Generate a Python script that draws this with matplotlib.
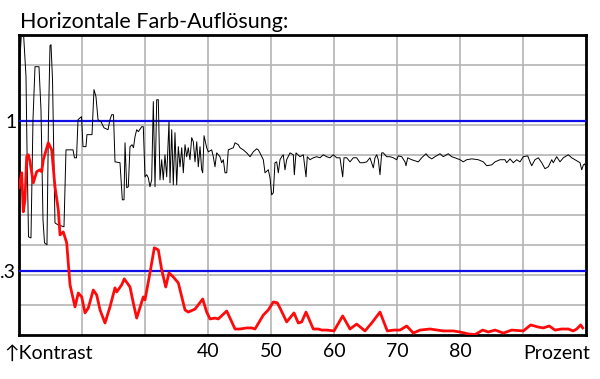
import matplotlib
matplotlib.use("Agg")
import matplotlib.pyplot as plt
import numpy as np

# --- data (x in percent, y as response) ---
black_x = [10.08, 10.40, 10.71, 11.11, 11.27, 11.51, 11.90, 12.22, 12.54, 13.17,
           13.49, 13.81, 14.05, 14.44, 14.68, 14.92, 15.08, 15.32, 15.71, 16.19,
           17.14, 17.46, 18.57, 18.81, 19.13, 19.37, 19.92, 20.16, 20.63, 20.79,
           21.59, 21.90, 22.22, 22.54, 23.02, 23.49, 24.13, 24.44, 24.71, 25.00,
           25.24, 26.03, 26.40, 26.67, 26.83, 27.10, 27.35, 27.62, 27.94, 28.17,
           28.41, 28.68, 28.94, 29.48, 29.73, 30.00, 30.27, 30.52, 30.79, 31.06,
           31.32, 31.59, 31.86, 32.11, 32.38, 32.65, 32.90, 33.17, 33.44, 33.81,
           33.97, 34.24, 34.49, 34.76, 35.03, 35.29, 35.56, 35.83, 36.08, 36.35,
           36.62, 36.87, 37.14, 37.41, 37.67, 37.94, 38.21, 38.46, 38.73, 39.00,
           39.16, 39.37, 39.79, 40.05, 40.59, 40.84, 41.11, 41.38, 41.90, 42.17,
           42.43, 42.70, 42.97, 43.22, 44.02, 44.29, 44.81, 45.08, 45.60, 46.14,
           46.67, 47.19, 47.73, 47.98, 48.25, 48.78, 49.05, 49.57, 49.84, 50.11,
           50.37, 50.63, 50.90, 51.16, 51.43, 51.70, 51.95, 52.22, 52.49, 53.02,
           53.54, 53.70, 53.97, 54.60, 55.13, 55.56, 55.76, 56.19, 56.71, 57.25,
           57.78, 58.30, 58.84, 59.37, 59.89, 60.43, 60.95, 61.38, 61.59, 62.02,
           62.54, 63.06, 63.60, 64.13, 64.65, 65.19, 65.71, 66.24, 66.51, 66.78,
           67.03, 67.30, 67.57, 67.83, 68.37, 68.89, 69.41, 69.95, 70.21, 70.75,
           71.27, 71.43, 71.70, 72.33, 73.38, 73.92, 74.60, 74.97, 75.51, 76.03,
           76.83, 77.35, 78.14, 78.68, 79.21, 80.00, 80.52, 81.06, 81.86, 82.90,
           83.70, 84.24, 85.03, 85.56, 86.35, 87.14, 87.41, 87.94, 88.46, 89.00,
           89.52, 90.05, 90.75, 91.11, 91.38, 91.90, 92.43, 92.97, 93.49, 94.02,
           94.56, 94.81, 95.35, 95.87, 96.40, 97.19, 97.73, 98.52, 99.05, 99.32,
           99.59, 99.84, 100.00]
black_y = [1.248, 1.416, 1.411, 1.206, 0.864, 0.458, 0.453, 1.005, 1.252, 1.252,
           1.051, 0.537, 0.430, 0.421, 1.005, 1.350, 1.355, 1.192, 0.523, 0.514,
           0.505, 0.864, 0.864, 0.827, 0.827, 1.005, 1.019, 0.879, 0.879, 0.935,
           0.935, 1.145, 1.112, 1.005, 0.995, 0.967, 0.958, 1.005, 1.028, 1.028,
           0.808, 0.804, 0.631, 0.631, 0.897, 0.687, 0.692, 0.879, 0.888, 0.874,
           0.925, 0.958, 0.949, 0.972, 0.972, 0.738, 0.748, 0.734, 0.692, 0.724,
           1.089, 0.692, 1.098, 1.098, 0.724, 0.818, 0.724, 0.841, 0.738, 0.995,
           0.710, 0.958, 0.701, 0.944, 0.701, 0.879, 0.785, 0.874, 0.757, 0.888,
           0.832, 0.874, 0.818, 0.921, 0.902, 0.808, 0.902, 0.785, 0.879, 0.771,
           0.757, 0.930, 0.874, 0.855, 0.864, 0.832, 0.785, 0.850, 0.832, 0.804,
           0.818, 0.757, 0.757, 0.864, 0.874, 0.897, 0.888, 0.874, 0.864, 0.850,
           0.832, 0.855, 0.869, 0.864, 0.850, 0.818, 0.757, 0.771, 0.734, 0.654,
           0.664, 0.804, 0.808, 0.757, 0.818, 0.832, 0.841, 0.771, 0.818, 0.850,
           0.841, 0.748, 0.850, 0.832, 0.841, 0.738, 0.832, 0.818, 0.827, 0.832,
           0.827, 0.841, 0.832, 0.827, 0.841, 0.827, 0.827, 0.738, 0.827, 0.827,
           0.808, 0.827, 0.827, 0.804, 0.804, 0.808, 0.827, 0.780, 0.827, 0.841,
           0.818, 0.748, 0.850, 0.850, 0.832, 0.832, 0.827, 0.818, 0.836, 0.832,
           0.808, 0.790, 0.827, 0.818, 0.808, 0.827, 0.846, 0.832, 0.822, 0.832,
           0.846, 0.832, 0.846, 0.832, 0.827, 0.818, 0.808, 0.818, 0.822, 0.818,
           0.808, 0.790, 0.794, 0.808, 0.818, 0.818, 0.804, 0.822, 0.804, 0.818,
           0.808, 0.832, 0.836, 0.808, 0.790, 0.818, 0.827, 0.804, 0.776, 0.785,
           0.818, 0.804, 0.832, 0.808, 0.827, 0.841, 0.827, 0.813, 0.804, 0.771,
           0.794, 0.799, 0.771]

red_x = [10.00, 10.43, 10.68, 10.95, 11.22, 11.48, 11.75, 12.27, 12.81, 13.33,
         13.60, 13.86, 14.65, 15.19, 15.71, 16.24, 16.51, 17.03, 17.57, 18.10,
         18.89, 19.41, 19.95, 20.48, 21.00, 21.79, 22.33, 22.86, 23.65, 24.44,
         25.24, 25.51, 26.30, 26.71, 27.62, 28.14, 28.68, 29.73, 30.00, 30.79,
         31.48, 32.11, 32.65, 33.29, 33.81, 34.49, 35.29, 36.35, 36.87, 37.94,
         39.16, 39.79, 40.32, 41.11, 41.63, 42.97, 44.29, 45.08, 46.14, 46.94,
         47.46, 48.78, 49.57, 50.37, 51.00, 51.43, 52.49, 53.65, 54.33, 54.87,
         55.56, 56.71, 57.51, 58.05, 58.84, 60.00, 61.38, 62.54, 63.60, 64.92,
         65.98, 67.30, 68.46, 69.52, 70.48, 71.54, 72.59, 73.65, 75.24, 77.35,
         78.94, 80.00, 81.32, 82.38, 83.60, 84.49, 85.56, 86.87, 88.21, 90.05,
         91.22, 92.43, 93.22, 94.17, 95.08, 96.14, 97.19, 97.98, 98.52, 99.16,
         99.48]
red_y = [0.687, 0.757, 0.575, 0.631, 0.832, 0.841, 0.808, 0.710, 0.762, 0.771,
         0.762, 0.818, 0.897, 0.864, 0.692, 0.584, 0.467, 0.481, 0.430, 0.234,
         0.131, 0.196, 0.178, 0.103, 0.126, 0.210, 0.187, 0.117, 0.056, 0.131,
         0.220, 0.201, 0.234, 0.262, 0.224, 0.150, 0.079, 0.178, 0.164, 0.290,
         0.407, 0.397, 0.304, 0.224, 0.290, 0.271, 0.243, 0.117, 0.107, 0.121,
         0.168, 0.107, 0.075, 0.079, 0.075, 0.112, 0.028, 0.028, 0.033, 0.033,
         0.028, 0.093, 0.117, 0.154, 0.150, 0.126, 0.061, 0.103, 0.056, 0.061,
         0.107, 0.028, 0.028, 0.023, 0.023, 0.019, 0.089, 0.028, 0.051, 0.019,
         0.056, 0.107, 0.019, 0.023, 0.023, 0.042, 0.009, 0.023, 0.028, 0.019,
         0.019, 0.014, 0.005, 0.002, 0.023, 0.014, 0.023, 0.009, 0.023, 0.019,
         0.047, 0.037, 0.033, 0.042, 0.023, 0.028, 0.028, 0.019, 0.028, 0.047,
         0.033]

ref_levels = [1.0, 0.3]
ref_labels = ["1", ".3"]
x_tick_values = [40, 50, 60, 70, 80]

FONT = ["Lato", "DejaVu Sans"]

fig = plt.figure(figsize=(6.0, 3.79), dpi=100)
ax = fig.add_axes([19 / 600, 44 / 379, 567 / 600, 300 / 379])

ax.set_xlim(10, 100)
ax.set_ylim(0, 1.4)

# grid: every 10 % horizontally, every 0.14 vertically
ax.set_xticks(np.arange(20, 100, 10), minor=True)
ax.set_yticks(np.arange(0.14, 1.4, 0.14), minor=True)
ax.xaxis.grid(True, which="both", color="#b4b4b4", linewidth=1.2)
ax.yaxis.grid(True, which="minor", color="#b4b4b4", linewidth=1.2)
ax.tick_params(which="minor", length=0)

ax.set_xticks(x_tick_values)
ax.set_xticklabels([str(v) for v in x_tick_values], family=FONT, fontsize=14)
ax.set_yticks(ref_levels)
ax.set_yticklabels(ref_labels, family=FONT, fontsize=14)
ax.tick_params(which="major", length=0)
ax.tick_params(axis="x", pad=6)
ax.tick_params(axis="y", pad=2)

for lvl in ref_levels:
    ax.axhline(lvl, color="#1010e6", linewidth=1.6, zorder=3)

ax.plot(black_x, black_y, color="black", linewidth=0.7, zorder=4)
ax.plot(red_x, red_y, color="#ff0a0a", linewidth=2.0, zorder=5)

for s in ax.spines.values():
    s.set_linewidth(2.0)
    s.set_color("black")

fig.text(20 / 600, 1 - 28 / 379, "Horizontale Farb-Auflösung:",
         family=FONT, fontsize=15.5, va="baseline", ha="left")
fig.text(4 / 600, 1 - 359 / 379, "↑Kontrast",
         family=FONT, fontsize=14, va="baseline", ha="left")
fig.text(590 / 600, 1 - 359 / 379, "Prozent",
         family=FONT, fontsize=14, va="baseline", ha="right")

fig.savefig("out.png", dpi=100)
